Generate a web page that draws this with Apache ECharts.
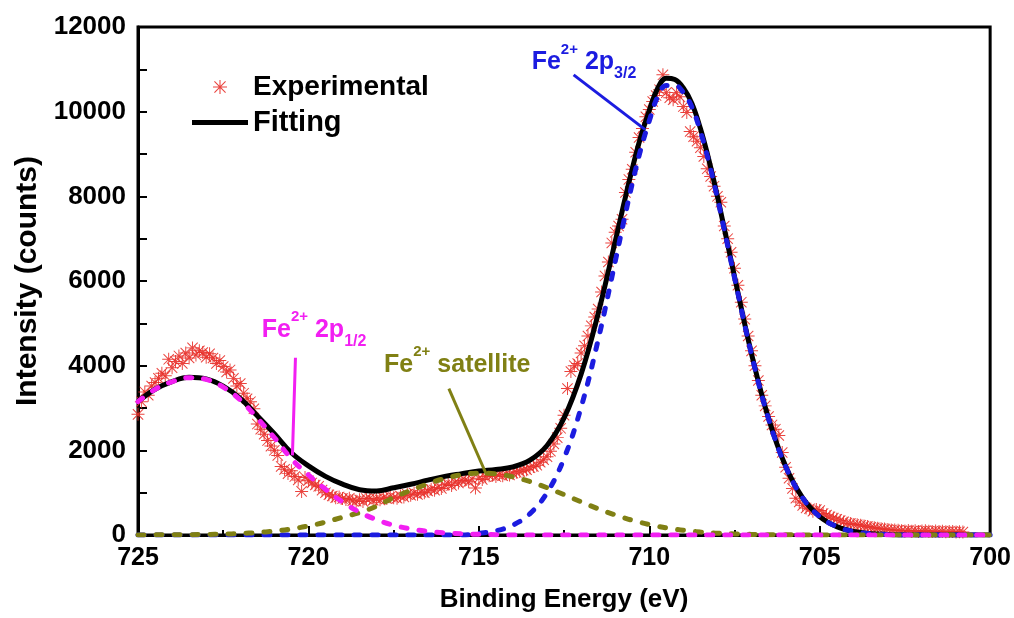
<!DOCTYPE html>
<html>
<head>
<meta charset="utf-8">
<title>Fe 2p XPS spectrum</title>
<script src="https://cdn.jsdelivr.net/npm/echarts@6/dist/echarts.min.js"></script>
<style>
  html, body { margin: 0; padding: 0; background: #fff; }
  #chart { width: 1014px; height: 618px; }
</style>
</head>
<body>
<div id="chart"></div>
<script>
// Measured spectrum: binding energy (eV) and counts
const expEnergy = [
  725.0, 724.9, 724.8, 724.7, 724.6, 724.5, 724.4, 724.3, 724.2, 724.1,
  724.0, 723.9, 723.8, 723.7, 723.6, 723.5, 723.4, 723.3, 723.2, 723.1,
  723.0, 722.9, 722.8, 722.7, 722.6, 722.5, 722.4, 722.3, 722.2, 722.1,
  722.0, 721.9, 721.8, 721.7, 721.6, 721.5, 721.4, 721.3, 721.2, 721.1,
  721.0, 720.9, 720.8, 720.7, 720.6, 720.5, 720.4, 720.3, 720.2, 720.1,
  720.0, 719.9, 719.8, 719.7, 719.6, 719.5, 719.4, 719.3, 719.2, 719.1,
  719.0, 718.9, 718.8, 718.7, 718.6, 718.5, 718.4, 718.3, 718.2, 718.1,
  718.0, 717.9, 717.8, 717.7, 717.6, 717.5, 717.4, 717.3, 717.2, 717.1,
  717.0, 716.9, 716.8, 716.7, 716.6, 716.5, 716.4, 716.3, 716.2, 716.1,
  716.0, 715.9, 715.8, 715.7, 715.6, 715.5, 715.4, 715.3, 715.2, 715.1,
  715.0, 714.9, 714.8, 714.7, 714.6, 714.5, 714.4, 714.3, 714.2, 714.1,
  714.0, 713.9, 713.8, 713.7, 713.6, 713.5, 713.4, 713.3, 713.2, 713.1,
  713.0, 712.9, 712.8, 712.7, 712.6, 712.5, 712.4, 712.3, 712.2, 712.1,
  712.0, 711.9, 711.8, 711.7, 711.6, 711.5, 711.4, 711.3, 711.2, 711.1,
  711.0, 710.9, 710.8, 710.7, 710.6, 710.5, 710.4, 710.3, 710.2, 710.1,
  710.0, 709.9, 709.8, 709.7, 709.6, 709.5, 709.4, 709.3, 709.2, 709.1,
  709.0, 708.9, 708.8, 708.7, 708.6, 708.5, 708.4, 708.3, 708.2, 708.1,
  708.0, 707.9, 707.8, 707.7, 707.6, 707.5, 707.4, 707.3, 707.2, 707.1,
  707.0, 706.9, 706.8, 706.7, 706.6, 706.5, 706.4, 706.3, 706.2, 706.1,
  706.0, 705.9, 705.8, 705.7, 705.6, 705.5, 705.4, 705.3, 705.2, 705.1,
  705.0, 704.9, 704.8, 704.7, 704.6, 704.5, 704.4, 704.3, 704.2, 704.1,
  704.0, 703.9, 703.8, 703.7, 703.6, 703.5, 703.4, 703.3, 703.2, 703.1,
  703.0, 702.9, 702.8, 702.7, 702.6, 702.5, 702.4, 702.3, 702.2, 702.1,
  702.0, 701.9, 701.8, 701.7, 701.6, 701.5, 701.4, 701.3, 701.2, 701.1,
  701.0, 700.9, 700.8
];
const expCounts = [
  2850, 3150, 3380, 3300, 3520, 3600, 3700, 3820, 3760, 4150,
  3950, 4100, 4230, 4050, 4300, 4180, 4420, 4250, 4350, 4310,
  4200, 4280, 4180, 4050, 4120, 3980, 3850, 3900, 3700, 3520,
  3580, 3350, 3220, 3150, 2980, 2620, 2500, 2380, 2230, 2100,
  2000, 1880, 1620, 1550, 1450, 1520, 1380, 1300, 1030, 1360,
  1280, 1230, 1180, 1150, 1060, 1000, 950, 920, 880, 900,
  860, 840, 870, 810, 800, 830, 790, 860, 870, 820,
  850, 830, 880, 860, 900, 880, 870, 920, 900, 960,
  940, 990, 960, 1010, 1000, 1040, 1080, 1060, 1120, 1100,
  1180, 1200, 1170, 1250, 1230, 1290, 1300, 1260, 1320, 1110,
  1340, 1310, 1380, 1400, 1410, 1380, 1430, 1400, 1440, 1420,
  1460, 1480, 1500, 1530, 1540, 1590, 1620, 1650, 1720, 1780,
  1850, 1980, 2150, 2300, 2520, 2830, 3460, 3860, 4000, 4050,
  4300, 4470, 4700, 4940, 5150, 5340, 5740, 6120, 6450, 6900,
  7150, 7300, 7460, 8090, 8400, 8640, 9040, 9390, 9600, 9880,
  10050, 10240, 10380, 10520, 10870, 10450, 10330, 10280, 10450, 10350,
  10120, 9980, 9530, 9410, 9300, 9150, 8940, 8650, 8470, 8240,
  8000, 7860, 7300, 7000, 6680, 6300, 5900, 5500, 5100, 4700,
  4350, 4000, 3650, 3300, 3050, 2800, 2600, 2500, 2350, 1950,
  1600, 1340, 1100, 870, 780, 700, 640, 620, 560, 600,
  580, 510, 470, 430, 400, 370, 340, 310, 280, 270,
  250, 240, 230, 210, 200, 180, 170, 160, 150, 140,
  130, 120, 118, 110, 100, 95, 105, 90, 100, 85,
  95, 100, 90, 80, 95, 85, 90, 75, 85, 80,
  70, 75, 70
];

// Fitted envelope and peak components (finer steps across the main peak)
const fitEnergy = [
  725.0, 724.5, 724.0, 723.5, 723.0, 722.5, 722.0, 721.5, 721.0, 720.5,
  720.0, 719.5, 719.0, 718.5, 718.0, 717.5, 717.0, 716.5, 716.0, 715.5,
  715.0, 714.5, 714.0, 713.5, 713.0, 712.5, 712.0, 711.5, 711.0,
  710.75, 710.5, 710.25, 710.0, 709.75, 709.5, 709.25, 709.0, 708.75, 708.5, 708.25, 708.0,
  707.5, 707.0, 706.5, 706.0, 705.5, 705.0, 704.5, 704.0, 703.5, 703.0,
  702.5, 702.0, 701.5, 701.0, 700.5, 700.0
];
const fitTotal = [
  3152, 3443, 3625, 3725, 3687, 3515, 3225, 2818, 2393, 1943,
  1633, 1385, 1200, 1070, 1040, 1115, 1198, 1295, 1385, 1450,
  1512, 1549, 1608, 1767, 2114, 2765, 3800, 5230, 6932,
  7809, 8650, 9406, 10030, 10560, 10790, 10760, 10560, 10196, 9602, 8857, 7994,
  6105, 4278, 2751, 1624, 879, 436, 198, 83, 31, 12,
  0, 0, 0, 0, 0, 0
];
const peak2p32 = [
  0, 0, 0, 0, 0, 0, 0, 0, 0, 0,
  0, 0, 0, 0, 0, 0, 0, 0, 0, 0,
  38, 99, 233, 504, 997, 1812, 3017, 4610, 6459,
  7401, 8302, 9111, 9784, 10360, 10620, 10620, 10450, 10107, 9532, 8801, 7951,
  6080, 4264, 2743, 1619, 876, 434, 198, 83, 31, 12,
  0, 0, 0, 0, 0, 0
];
const peak2p12 = [
  3150, 3440, 3620, 3717, 3675, 3495, 3190, 2760, 2300, 1800,
  1420, 1080, 780, 540, 360, 230, 145, 88, 50, 28,
  15, 7, 0, 0, 0, 0, 0, 0, 0,
  0, 0, 0, 0, 0, 0, 0, 0, 0, 0, 0, 0,
  0, 0, 0, 0, 0, 0, 0, 0, 0, 0,
  0, 0, 0, 0, 0, 0
];
const peakSatellite = [
  2, 3, 5, 8, 12, 20, 35, 58, 93, 143,
  213, 305, 420, 530, 680, 885, 1053, 1207, 1335, 1422,
  1459, 1443, 1375, 1263, 1117, 953, 783, 620, 473,
  408, 348, 295, 246, 205, 168, 138, 111, 89, 70, 56, 43,
  25, 14, 8, 5, 3, 2, 0, 0, 0, 0,
  0, 0, 0, 0, 0, 0
];

const pairs = (xs, ys) => xs.map((x, i) => [x, ys[i]]);

const FONT = "'Liberation Sans', Arial, sans-serif";
const RED = '#e8302a';
const BLUE = '#1c1ce0';
const MAGENTA = '#f21ff2';
const OLIVE = '#808014';

// thin eight-armed asterisk marker
const ASTERISK = 'path://M9.25,0L10.75,0L10.75,20L9.25,20Z M0,9.25L20,9.25L20,10.75L0,10.75Z ' +
  'M2.6,1.5L18.5,17.4L17.4,18.5L1.5,2.6Z M17.4,1.5L18.5,2.6L2.6,18.5L1.5,17.4Z';
// plain thick bar for the fit's legend entry
const BAR = 'path://M0,0L56,0L56,5L0,5Z';

const dashed = (color) => ({
  color: color, width: 5, type: [6, 12], cap: 'round'
});

const chart = echarts.init(document.getElementById('chart'), null, { renderer: 'canvas' });

const option = {
  animation: false,
  backgroundColor: '#fff',
  grid: {
    left: 138, right: 21, top: 27, bottom: 81,
    show: true, borderColor: '#000', borderWidth: 3, backgroundColor: 'transparent'
  },
  legend: {
    orient: 'vertical',
    left: 187, top: 68,
    itemWidth: 56, itemHeight: 14, itemGap: 7,
    selectedMode: false,
    textStyle: { fontFamily: FONT, fontWeight: 'bold', color: '#000', fontSize: 28 },
    data: [
      { name: 'Experimental', icon: ASTERISK, textStyle: { fontSize: 28 } },
      { name: 'Fitting', icon: BAR, textStyle: { fontSize: 29 } }
    ]
  },
  xAxis: {
    type: 'value', inverse: true, min: 700, max: 725, interval: 5,
    axisLine: { show: true, onZero: false, lineStyle: { color: '#000', width: 3 } },
    axisTick: { show: true, inside: true, length: 9, lineStyle: { color: '#000', width: 2 } },
    minorTick: { show: true, splitNumber: 2, length: 5, lineStyle: { color: '#000', width: 2 } },
    splitLine: { show: false },
    minorSplitLine: { show: false },
    axisLabel: { color: '#000', fontFamily: FONT, fontWeight: 'bold', fontSize: 25, margin: 11 },
    name: 'Binding Energy (eV)', nameLocation: 'middle', nameGap: 52,
    nameTextStyle: { color: '#000', fontFamily: FONT, fontWeight: 'bold', fontSize: 26 }
  },
  yAxis: {
    type: 'value', min: 0, max: 12000, interval: 2000,
    axisLine: { show: true, onZero: false, lineStyle: { color: '#000', width: 3 } },
    axisTick: { show: true, inside: true, length: 9, lineStyle: { color: '#000', width: 2 } },
    minorTick: { show: true, splitNumber: 2, length: 9, lineStyle: { color: '#000', width: 2 } },
    splitLine: { show: false },
    minorSplitLine: { show: false },
    axisLabel: {
      color: '#000', fontFamily: FONT, fontWeight: 'bold', fontSize: 26, margin: 12,
      formatter: (v) => String(v)
    },
    name: 'Intensity (counts)', nameLocation: 'middle', nameGap: 95, nameRotate: 90,
    nameTextStyle: { color: '#000', fontFamily: FONT, fontWeight: 'bold', fontSize: 30 }
  },
  series: [
    {
      name: 'Experimental', type: 'scatter',
      data: pairs(expEnergy, expCounts),
      symbol: ASTERISK, symbolSize: 13, symbolKeepAspect: true,
      itemStyle: { color: RED, opacity: 0.9 },
      z: 2, silent: true
    },
    {
      name: 'Fitting', type: 'line',
      data: pairs(fitEnergy, fitTotal),
      symbol: 'none', smooth: 0.4,
      lineStyle: { color: '#000', width: 5 },
      itemStyle: { color: '#000' },
      z: 3, silent: true
    },
    {
      name: 'Fe2+ 2p3/2', type: 'line',
      data: pairs(fitEnergy, peak2p32),
      symbol: 'none', smooth: 0.4,
      lineStyle: dashed(BLUE), itemStyle: { color: BLUE },
      z: 4, silent: true
    },
    {
      name: 'Fe2+ satellite', type: 'line',
      data: pairs(fitEnergy, peakSatellite),
      symbol: 'none', smooth: 0.4,
      lineStyle: dashed(OLIVE), itemStyle: { color: OLIVE },
      z: 5, silent: true
    },
    {
      name: 'Fe2+ 2p1/2', type: 'line',
      data: pairs(fitEnergy, peak2p12),
      symbol: 'none', smooth: 0.4,
      lineStyle: dashed(MAGENTA), itemStyle: { color: MAGENTA },
      z: 6, silent: true
    }
  ]
};

chart.setOption(option);

// Peak labels with leader lines, anchored in data coordinates
const peakNotes = [
  { color: BLUE,    text: '{a|Fe}{s|2+}{a| 2p}{d|3/2}',   at: [713.45, 11176], from: [712.22, 10870], to: [710.12, 9576] },
  { color: MAGENTA, text: '{a|Fe}{s|2+}{a| 2p}{d|1/2}',   at: [721.37, 4847],  from: [720.38, 4188],  to: [720.47, 1882] },
  { color: OLIVE,   text: '{a|Fe}{s|2+}{a| satellite}',   at: [717.78, 4024],  from: [715.88, 3459],  to: [714.77, 1412] }
];

const toPx = (p) => chart.convertToPixel({ gridIndex: 0 }, p);
const graphics = [];
peakNotes.forEach((n) => {
  const a = toPx(n.from), b = toPx(n.to), t = toPx(n.at);
  graphics.push({
    type: 'line', z: 50, silent: true,
    shape: { x1: a[0], y1: a[1], x2: b[0], y2: b[1] },
    style: { stroke: n.color, lineWidth: 3 }
  });
  const base = { fontFamily: FONT, fontWeight: 'bold', fill: n.color };
  graphics.push({
    type: 'text', z: 50, silent: true,
    x: t[0], y: t[1],
    style: {
      text: n.text, align: 'left', verticalAlign: 'middle',
      fontFamily: FONT, fontWeight: 'bold', fill: n.color,
      rich: {
        a: Object.assign({ fontSize: 25, lineHeight: 40, verticalAlign: 'middle' }, base),
        s: Object.assign({ fontSize: 15, lineHeight: 16, verticalAlign: 'top' }, base),
        d: Object.assign({ fontSize: 16, lineHeight: 14, verticalAlign: 'bottom' }, base)
      }
    }
  });
});
chart.setOption({ graphic: graphics });
</script>
</body>
</html>
